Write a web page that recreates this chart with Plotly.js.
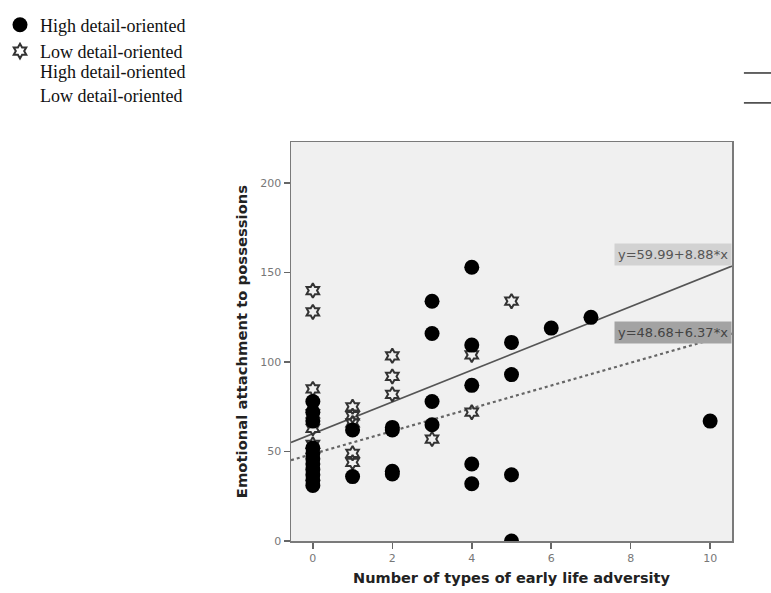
<!DOCTYPE html>
<html>
<head>
<meta charset="utf-8">
<script src="https://cdn.plot.ly/plotly-3.0.1.min.js"></script>
<style>html,body{margin:0;padding:0;background:#fff;}#chart{width:771px;height:593px;}</style>
</head>
<body>
<div id="chart"></div>
<script>
// High detail-oriented group
var highX = [0,0,0,0,0,0,0,0,0,0,0, 1,1, 2,2,2,2, 3,3,3,3, 4,4,4,4,4, 5,5,5,5, 6, 7, 10];
var highY = [78,72,67,52,49,46,43,40,37,34,31, 62,36, 62,63.5,37.5,39, 134,116,78,65, 153,109.5,87,43,32, 111,93,37,0, 119, 125, 67];
// Low detail-oriented group
var lowX = [0,0,0,0,0,0, 1,1,1,1,1, 2,2,2, 3, 4,4, 5];
var lowY = [140,128,85,71,63,54, 75,70,66,49,44, 103.5,92,82, 57, 104,72, 134];
// fit lines: intercept, slope
var fitIntercept = [59.99, 48.68];
var fitSlope = [8.88, 6.37];
var fitLabels = ["y=59.99+8.88*x", "y=48.68+6.37*x"];
var legendNames = ["High detail-oriented", "Low detail-oriented"];
var xTicks = [0,2,4,6,8,10];
var yTicks = [0,50,100,150,200];

var xr = [-0.55, 10.55];
function fitLine(i){
  return {x: xr, y: xr.map(function(v){return fitIntercept[i] + fitSlope[i]*v;})};
}
var f0 = fitLine(0), f1 = fitLine(1);

var traces = [
  {type:'scatter', mode:'lines', x:f0.x, y:f0.y, line:{color:'#555', width:1.6}, showlegend:false, hoverinfo:'skip'},
  {type:'scatter', mode:'lines', x:f1.x, y:f1.y, line:{color:'#666', width:2.2, dash:'dot'}, showlegend:false, hoverinfo:'skip'},
  {type:'scatter', mode:'markers', name:legendNames[1], x:lowX, y:lowY,
   marker:{symbol:'hexagram-open', size:11, color:'#333', line:{color:'#333', width:2}}},
  {type:'scatter', mode:'markers', name:legendNames[0], x:highX, y:highY,
   marker:{symbol:'circle', size:15, color:'#000', line:{width:0}}}
];

var layout = {
  width:771, height:593,
  margin:{l:291, r:39, t:142, b:52},
  paper_bgcolor:'#fff',
  plot_bgcolor:'#f0f0f0',
  showlegend:true,
  legend:{xref:'container', yref:'container', x:0, y:0.989, xanchor:'left', yanchor:'top',
          traceorder:'reversed',
          font:{family:'Liberation Serif', size:18, color:'#111'}, bgcolor:'rgba(0,0,0,0)'},
  xaxis:{range:xr, tickvals:xTicks, ticktext:xTicks.map(String), ticks:'outside', ticklen:6, tickwidth:1.5, tickcolor:'#666',
         showgrid:false, zeroline:false, showline:true, mirror:true, linecolor:'#7a7a7a', linewidth:1.5,
         tickfont:{family:'DejaVu Sans', size:11, color:'#777'},
         title:{text:'Number of types of early life adversity', standoff:9, font:{family:'DejaVu Sans', size:14.5, color:'#222', weight:'bold'}}},
  yaxis:{range:[0,223], tickvals:yTicks, ticktext:yTicks.map(String), ticks:'outside', ticklen:6, tickwidth:1.5, tickcolor:'#666',
         showgrid:false, zeroline:false, showline:true, mirror:true, linecolor:'#7a7a7a', linewidth:1.5,
         tickfont:{family:'DejaVu Sans', size:11, color:'#777'},
         title:{text:'Emotional attachment to possessions', standoff:9, font:{family:'DejaVu Sans', size:14.8, color:'#222', weight:'bold'}}},
  annotations:[
    {xref:'paper', yref:'y', x:1, y:fitIntercept[0]+fitSlope[0]*xr[1]+6.5, xanchor:'right', yanchor:'middle', text:fitLabels[0], showarrow:false,
     bgcolor:'#d2d2d2', borderpad:3, font:{family:'DejaVu Sans', size:13, color:'#555'}},
    {xref:'paper', yref:'y', x:1, y:fitIntercept[1]+fitSlope[1]*xr[1]+0.5, xanchor:'right', yanchor:'middle', text:fitLabels[1], showarrow:false,
     bgcolor:'#a3a3a3', borderpad:3, font:{family:'DejaVu Sans', size:13, color:'#444'}},
    {xref:'paper', yref:'paper', x:-0.574, y:1.175, xanchor:'left', yanchor:'middle', text:legendNames[0], showarrow:false,
     font:{family:'Liberation Serif', size:18, color:'#111'}},
    {xref:'paper', yref:'paper', x:-0.574, y:1.115, xanchor:'left', yanchor:'middle', text:legendNames[1], showarrow:false,
     font:{family:'Liberation Serif', size:18, color:'#111'}}
  ],
  shapes:[
    {type:'line', xref:'paper', yref:'paper', x0:1.027, x1:1.09, y0:1.173, y1:1.173, line:{color:'#333', width:1.5}},
    {type:'line', xref:'paper', yref:'paper', x0:1.027, x1:1.09, y0:1.098, y1:1.098, line:{color:'#333', width:1.5}}
  ]
};
Plotly.newPlot('chart', traces, layout, {displayModeBar:false, staticPlot:true});
</script>
</body>
</html>
